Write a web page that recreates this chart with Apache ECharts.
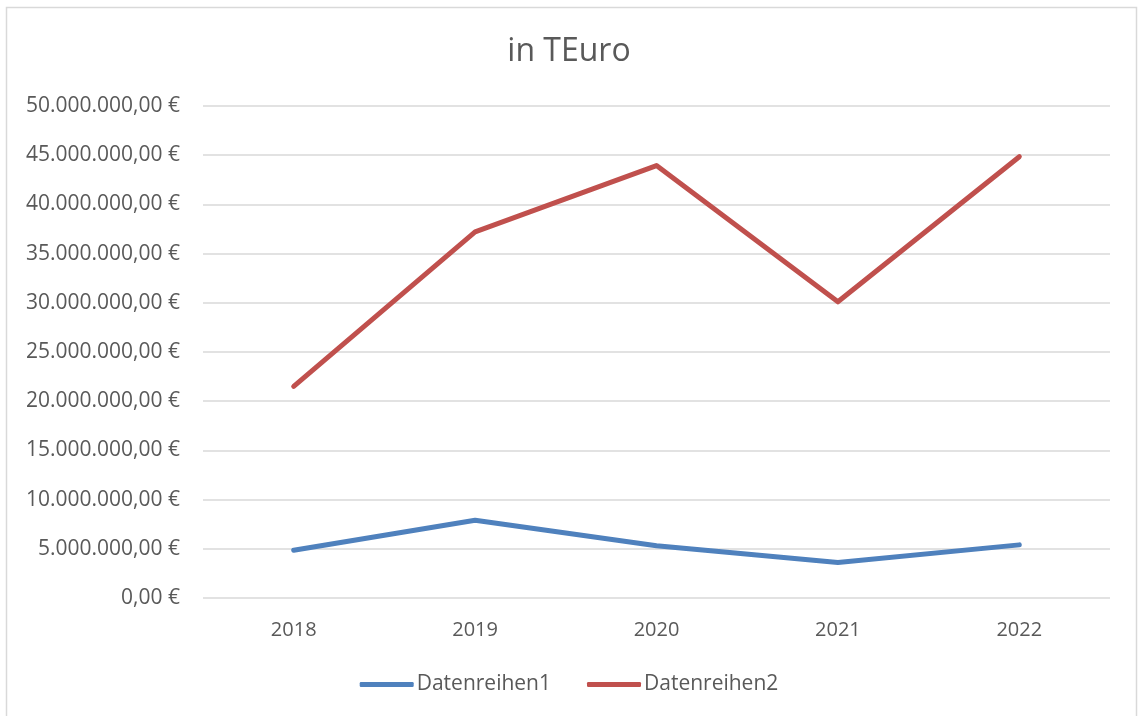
<!DOCTYPE html>
<html>
<head>
<meta charset="utf-8">
<script src="https://cdn.jsdelivr.net/npm/echarts@6/dist/echarts.min.js"></script>
<style>
html,body{margin:0;padding:0;background:#fff;}
#chart{width:1138px;height:716px;}
</style>
</head>
<body>
<div id="chart"></div>
<script>
const categories = ['2018', '2019', '2020', '2021', '2022'];
const seriesNames = ['Datenreihen1', 'Datenreihen2'];
const series1 = [4850000, 7900000, 5300000, 3600000, 5400000];
const series2 = [21500000, 37200000, 43950000, 30100000, 44850000];
const titleText = 'in TEuro';

function fmtEuro(v) {
  const parts = Math.round(v).toString().replace(/\B(?=(\d{3})+(?!\d))/g, '.');
  return parts + ',00 €';
}

const FONT = 'Open Sans';
const chart = echarts.init(document.getElementById('chart'));
chart.setOption({
  backgroundColor: '#ffffff',
  animation: false,
  title: {
    text: titleText,
    left: 'center',
    top: 31,
    textStyle: { fontFamily: FONT, fontSize: 32, fontWeight: 'normal', color: '#595959' }
  },
  legend: {
    data: seriesNames,
    bottom: 16,
    left: 'center',
    itemWidth: 54,
    itemHeight: 5,
    itemGap: 36,
    icon: 'roundRect',
    textStyle: { fontFamily: FONT, fontSize: 21, color: '#595959', padding: [0, 0, 0, -2] }
  },
  grid: { left: 203, right: 28, top: 106, bottom: 118, containLabel: false },
  xAxis: {
    type: 'category',
    data: categories,
    boundaryGap: true,
    axisLine: { show: false },
    axisTick: { show: false },
    axisLabel: { fontFamily: FONT, fontSize: 20, color: '#595959', margin: 22 }
  },
  yAxis: {
    type: 'value',
    min: 0,
    max: 50000000,
    interval: 5000000,
    axisLine: { show: false },
    axisTick: { show: false },
    splitLine: { lineStyle: { color: '#d9d9d9', width: 1.5 } },
    axisLabel: { fontFamily: FONT, fontSize: 21, color: '#595959', margin: 23, formatter: fmtEuro }
  },
  series: [
    {
      name: seriesNames[0], type: 'line', data: series1, symbol: 'none',
      lineStyle: { color: '#4f81bd', width: 5, cap: 'round', join: 'round' },
      itemStyle: { color: '#4f81bd' }
    },
    {
      name: seriesNames[1], type: 'line', data: series2, symbol: 'none',
      lineStyle: { color: '#c0504d', width: 5, cap: 'round', join: 'round' },
      itemStyle: { color: '#c0504d' }
    }
  ],
  graphic: [{
    type: 'rect', silent: true, z: -1,
    shape: { x: 6.5, y: 7.5, width: 1130, height: 720 },
    style: { fill: null, stroke: '#d9d9d9', lineWidth: 1.5 }
  }]
});
</script>
</body>
</html>
